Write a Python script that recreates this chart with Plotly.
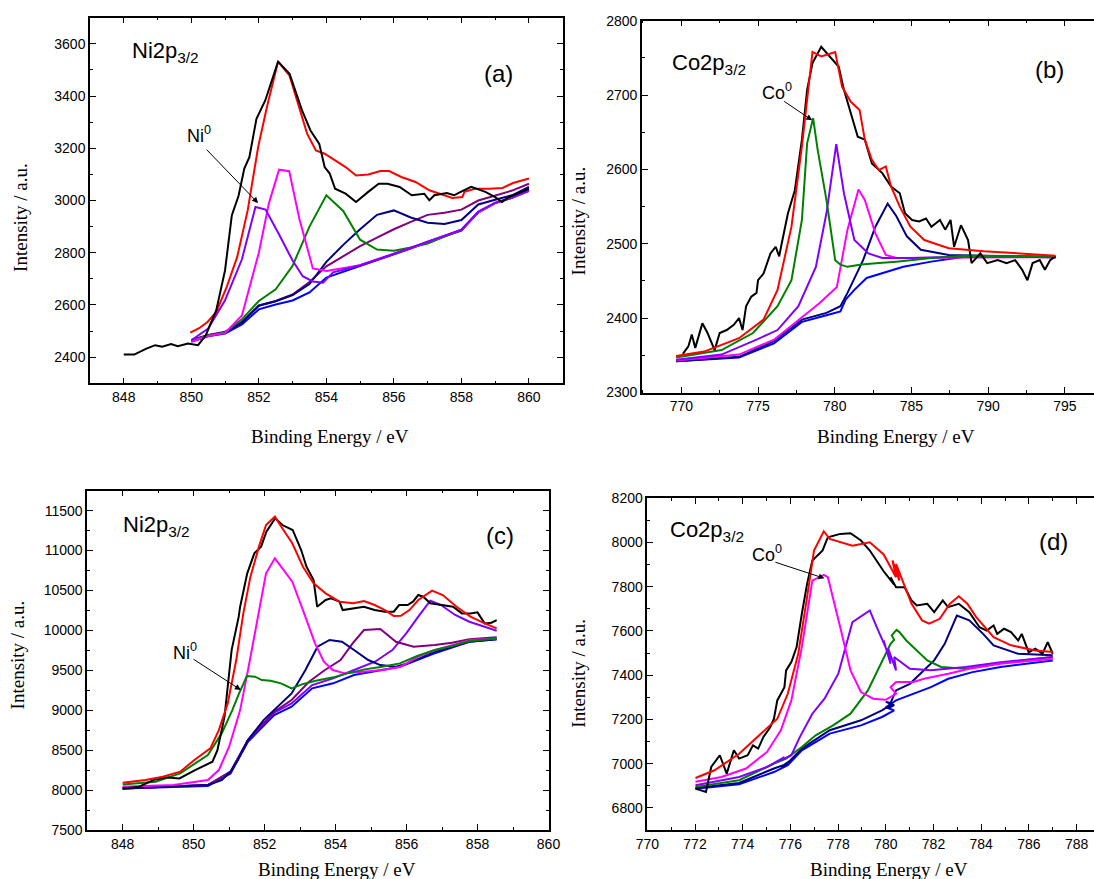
import plotly.graph_objects as go

# ---------------- Panel (a): Ni2p3/2 ----------------
A_BLACK_X = [848.0, 848.31, 848.67, 848.93, 849.14, 849.4, 849.6, 849.9, 850.2, 850.43, 850.74, 851.0, 851.2, 851.4, 851.57, 851.72, 851.93, 852.19, 852.57, 852.91, 853.28, 853.53, 853.79, 853.95, 854.1, 854.26, 854.57, 854.88, 855.24, 855.55, 855.81, 856.17, 856.53, 856.9, 857.05, 857.2, 857.57, 857.78, 857.98, 858.29, 858.71, 859.0, 859.2, 859.4, 860.0]
A_BLACK_Y = [2410, 2410, 2433, 2446, 2440, 2450, 2442, 2452, 2446, 2484, 2580, 2733, 2943, 3018, 3122, 3166, 3313, 3383, 3532, 3485, 3345, 3268, 3217, 3128, 3103, 3045, 3026, 2994, 3033, 3064, 3064, 3052, 3020, 3026, 3001, 3020, 3029, 3020, 3033, 3052, 3033, 3013, 2994, 3013, 3045]
A_RED_X = [849.97, 850.22, 850.48, 850.74, 851.05, 851.36, 851.67, 851.98, 852.24, 852.57, 852.91, 853.22, 853.43, 853.69, 853.95, 854.26, 854.57, 854.88, 855.24, 855.6, 855.86, 856.22, 856.64, 857.05, 857.47, 857.73, 858.03, 858.09, 858.4, 858.81, 859.22, 859.53, 860.0]
A_RED_Y = [2494, 2510, 2535, 2573, 2669, 2784, 2962, 3205, 3358, 3532, 3478, 3345, 3256, 3192, 3179, 3154, 3128, 3096, 3100, 3113, 3113, 3090, 3071, 3039, 3020, 3010, 3013, 3033, 3045, 3045, 3048, 3067, 3084]
A_GRID_X = [850.0, 850.5, 851.0, 851.5, 852.0, 852.5, 853.0, 853.5, 854.0, 854.5, 855.0, 855.5, 856.0, 856.5, 857.0, 857.5, 858.0, 858.5, 859.0, 859.5, 860.0]
A_BLUE_Y = [2459, 2480, 2491, 2525, 2583, 2602, 2617, 2648, 2705, 2727, 2748, 2771, 2794, 2816, 2841, 2864, 2885, 2955, 2990, 3010, 3036]
A_PURPLE_Y = [2466, 2485, 2497, 2535, 2598, 2615, 2640, 2688, 2748, 2785, 2825, 2858, 2890, 2918, 2945, 2953, 2965, 3000, 3020, 3038, 3064]
A_NAVY_Y = [2464, 2484, 2495, 2533, 2597, 2614, 2638, 2680, 2765, 2830, 2890, 2945, 2962, 2935, 2915, 2910, 2925, 2985, 3003, 3020, 3052]
A_GREEN_Y = [2463, 2483, 2495, 2545, 2615, 2660, 2750, 2900, 3020, 2960, 2850, 2812, 2808, 2820, 2835, 2860, 2888, 2955, 2990, 3010, 3040]
A_MAGENTA_X = [850.0, 850.5, 851.0, 851.5, 852.0, 852.3, 852.6, 852.9, 853.2, 853.6, 854.0, 854.5, 855.0, 855.5, 856.0, 856.5, 857.0, 857.5, 858.0, 858.5, 859.0, 859.5, 860.0]
A_MAGENTA_Y = [2460, 2481, 2493, 2560, 2800, 2990, 3118, 3112, 2930, 2740, 2730, 2742, 2752, 2775, 2796, 2818, 2842, 2865, 2887, 2955, 2990, 3012, 3038]
A_VIOLET_X = [850.0, 850.5, 851.0, 851.5, 851.9, 852.2, 852.6, 853.0, 853.3, 853.6, 853.9, 854.2, 854.5, 855.0, 855.5, 856.0, 856.5, 857.0, 857.5, 858.0, 858.5, 859.0, 859.5, 860.0]
A_VIOLET_Y = [2465, 2510, 2618, 2775, 2975, 2965, 2870, 2770, 2710, 2690, 2685, 2725, 2735, 2752, 2773, 2796, 2818, 2843, 2866, 2888, 2958, 2992, 3012, 3040]

# ---------------- Panel (b): Co2p3/2 ----------------
B_BLACK_X = [770.1, 770.46, 770.68, 770.91, 771.37, 771.71, 772.17, 772.5, 772.96, 773.42, 773.76, 773.99, 774.22, 774.56, 774.9, 775.0, 775.36, 775.81, 776.15, 776.38, 776.5, 776.95, 777.4, 777.86, 778.2, 778.55, 779.12, 779.69, 780.26, 780.6, 781.05, 781.5, 781.96, 782.42, 783.1, 783.67, 784.24, 784.58, 785.04, 785.5, 785.95, 786.3, 786.86, 787.2, 787.55, 787.78, 788.23, 788.69, 788.92, 789.49, 789.94, 790.62, 791.2, 791.76, 792.22, 792.56, 792.9, 793.36, 793.7, 794.04, 794.39]
B_BLACK_Y = [2352, 2362, 2378, 2360, 2393, 2380, 2357, 2380, 2384, 2391, 2400, 2384, 2416, 2429, 2434, 2451, 2460, 2487, 2496, 2483, 2496, 2541, 2572, 2640, 2707, 2743, 2765, 2752, 2738, 2707, 2675, 2644, 2640, 2608, 2595, 2577, 2568, 2541, 2532, 2530, 2534, 2523, 2532, 2519, 2532, 2496, 2525, 2505, 2474, 2487, 2474, 2478, 2474, 2478, 2465, 2451, 2474, 2478, 2465, 2478, 2483]
B_RED_X = [769.66, 771.48, 773.76, 775.36, 776.27, 777.18, 777.86, 778.27, 778.55, 779.12, 780.03, 780.48, 781.05, 781.62, 781.96, 782.42, 782.88, 783.33, 783.67, 784.24, 784.93, 785.84, 787.43, 789.71, 791.99, 794.39]
B_RED_Y = [2349, 2355, 2373, 2398, 2438, 2523, 2631, 2711, 2758, 2752, 2758, 2711, 2691, 2680, 2640, 2613, 2599, 2604, 2577, 2550, 2523, 2505, 2494, 2490, 2487, 2484]
B_GREEN_X = [769.66, 772.62, 774.67, 776.27, 777.18, 777.86, 778.2, 778.59, 778.89, 779.46, 780.03, 780.37, 780.83, 781.74, 782.88, 784.02, 786.29, 788.57, 794.39]
B_GREEN_Y = [2347, 2357, 2380, 2416, 2451, 2532, 2635, 2669, 2626, 2559, 2478, 2472, 2469, 2472, 2474, 2476, 2481, 2484, 2483]
B_VIOLET_X = [769.66, 772.62, 774.9, 776.27, 777.63, 778.77, 779.46, 780.1, 780.6, 781.28, 782.19, 783.1, 785.15, 788.57, 794.39]
B_VIOLET_Y = [2344, 2351, 2371, 2384, 2416, 2469, 2541, 2634, 2568, 2505, 2487, 2481, 2481, 2483, 2482]
B_MAGENTA_X = [769.66, 773.76, 776.04, 777.63, 779.0, 780.14, 780.83, 781.55, 781.96, 782.65, 783.33, 784.02, 786.29, 794.39]
B_MAGENTA_Y = [2343, 2351, 2371, 2398, 2420, 2442, 2519, 2573, 2559, 2514, 2485, 2481, 2481, 2482]
B_NAVY_X = [769.66, 773.76, 776.04, 777.86, 779.46, 780.37, 780.83, 781.85, 782.65, 783.45, 784.02, 784.7, 785.61, 787.43, 794.39]
B_NAVY_Y = [2342, 2348, 2369, 2398, 2407, 2416, 2434, 2478, 2523, 2554, 2537, 2510, 2492, 2485, 2482]
B_BLUE_X = [769.66, 773.76, 776.04, 777.86, 779.46, 780.37, 780.71, 781.28, 782.08, 783.1, 784.47, 786.29, 788.57, 794.39]
B_BLUE_Y = [2342, 2347, 2366, 2395, 2404, 2409, 2425, 2438, 2454, 2460, 2469, 2476, 2483, 2482]

# ---------------- Panel (c): Ni2p3/2 ----------------
C_BLACK_X = [848.0, 848.46, 848.86, 849.25, 849.6, 850.04, 850.53, 850.67, 850.87, 851.07, 851.27, 851.31, 851.51, 851.71, 851.9, 852.05, 852.3, 852.5, 852.79, 853.03, 853.18, 853.38, 853.48, 853.72, 853.87, 854.11, 854.2, 854.8, 855.1, 855.39, 855.64, 855.79, 856.03, 856.18, 856.33, 856.47, 856.67, 857.02, 857.31, 857.56, 857.8, 858.0, 858.2, 858.39, 858.54]
C_BLACK_Y = [8021, 8042, 8125, 8159, 8146, 8251, 8355, 8501, 8919, 9754, 10172, 10297, 10715, 10965, 11049, 11237, 11404, 11320, 11258, 11007, 10798, 10631, 10297, 10381, 10402, 10360, 10255, 10297, 10255, 10234, 10234, 10318, 10318, 10360, 10443, 10422, 10339, 10318, 10297, 10213, 10213, 10226, 10088, 10097, 10130]
C_RED_X = [848.0, 848.64, 849.13, 849.62, 850.02, 850.47, 850.71, 850.96, 851.2, 851.4, 851.6, 851.84, 852.04, 852.29, 852.53, 852.78, 853.08, 853.38, 853.72, 854.11, 854.5, 854.8, 855.1, 855.39, 855.64, 855.84, 856.08, 856.33, 856.72, 857.02, 857.41, 857.8, 858.2, 858.54]
C_RED_Y = [8092, 8125, 8167, 8230, 8376, 8522, 8752, 9086, 9629, 10214, 10673, 11049, 11320, 11425, 11258, 11091, 10798, 10590, 10464, 10360, 10339, 10368, 10318, 10255, 10180, 10184, 10255, 10381, 10498, 10443, 10297, 10172, 10088, 10026]
C_GREEN_X = [848.0, 848.93, 849.62, 850.4, 850.79, 851.09, 851.28, 851.5, 851.73, 851.92, 852.17, 852.46, 852.76, 853.05, 853.44, 853.94, 854.33, 854.82, 855.31, 855.81, 856.3, 856.79, 857.28, 857.77, 858.54]
C_GREEN_Y = [8071, 8104, 8209, 8439, 8710, 9002, 9211, 9428, 9420, 9378, 9370, 9337, 9274, 9324, 9370, 9412, 9462, 9512, 9545, 9587, 9679, 9754, 9804, 9867, 9900]
C_MAGENTA_X = [848.0, 849.43, 850.4, 850.71, 851.0, 851.31, 851.55, 851.84, 852.04, 852.29, 852.53, 852.78, 853.08, 853.42, 853.67, 853.92, 854.26, 854.85, 855.34, 855.83, 856.33, 856.82, 857.31, 857.8, 858.54]
C_MAGENTA_Y = [8042, 8063, 8125, 8251, 8543, 9002, 9545, 10255, 10715, 10903, 10757, 10610, 10255, 9838, 9608, 9504, 9462, 9483, 9504, 9545, 9671, 9754, 9817, 9879, 9900]
C_NAVY_X = [848.0, 849.43, 850.4, 850.79, 851.04, 851.24, 851.53, 851.97, 852.27, 852.76, 853.15, 853.49, 853.83, 854.18, 854.52, 854.92, 855.26, 855.7, 856.1, 856.79, 857.77, 858.54]
C_NAVY_Y = [8021, 8042, 8063, 8125, 8230, 8376, 8627, 8877, 9002, 9211, 9504, 9796, 9880, 9859, 9754, 9629, 9566, 9545, 9596, 9733, 9858, 9888]
C_PURPLE_X = [848.0, 850.4, 851.04, 851.53, 852.27, 852.76, 853.25, 853.7, 854.14, 854.48, 854.8, 855.26, 855.7, 856.2, 856.79, 857.28, 857.77, 858.54]
C_PURPLE_Y = [8021, 8063, 8230, 8627, 8982, 9128, 9357, 9504, 9629, 9838, 10005, 10017, 9858, 9796, 9817, 9846, 9888, 9913]
C_VIOLET_X = [848.0, 850.4, 851.04, 851.53, 852.27, 852.76, 853.34, 853.93, 854.52, 855.11, 855.6, 855.99, 856.33, 856.67, 856.97, 857.37, 857.77, 858.16, 858.54]
C_VIOLET_Y = [8021, 8063, 8230, 8627, 8969, 9086, 9316, 9399, 9504, 9608, 9754, 9963, 10172, 10372, 10318, 10193, 10109, 10047, 9996]
C_BLUE_X = [848.0, 850.4, 851.04, 851.53, 852.27, 852.76, 853.34, 853.93, 854.52, 855.31, 855.81, 856.79, 857.77, 858.54]
C_BLUE_Y = [8021, 8050, 8209, 8606, 8940, 9044, 9274, 9337, 9441, 9504, 9545, 9712, 9858, 9888]

# ---------------- Panel (d): Co2p3/2 ----------------
D_BLACK_X = [772.02, 772.46, 772.68, 773.04, 773.33, 773.63, 773.85, 774.21, 774.43, 774.65, 774.87, 775.16, 775.31, 775.45, 775.75, 775.82, 776.04, 776.26, 776.48, 776.7, 776.92, 777.35, 777.57, 778.09, 778.52, 778.96, 779.33, 779.77, 779.91, 780.35, 780.2, 780.43, 780.79, 781.08, 781.3, 781.74, 782.03, 782.39, 782.61, 783.06, 783.5, 783.93, 784.23, 784.52, 784.67, 784.96, 785.25, 785.55, 785.7, 785.99, 786.27, 786.57, 786.79, 787.0]
D_BLACK_Y = [6887, 6872, 6985, 7038, 6955, 7061, 7023, 7038, 7083, 7068, 7121, 7166, 7203, 7286, 7346, 7422, 7459, 7527, 7678, 7813, 7919, 7964, 8024, 8039, 8042, 8009, 7964, 7896, 7870, 7810, 7843, 7798, 7798, 7738, 7715, 7723, 7685, 7738, 7708, 7723, 7685, 7617, 7602, 7625, 7587, 7610, 7595, 7557, 7587, 7504, 7520, 7497, 7550, 7497]
D_RED_X = [772.02, 772.82, 773.85, 774.87, 775.45, 775.89, 776.33, 776.7, 776.99, 777.4, 777.65, 778.6, 779.33, 779.91, 780.43, 780.28, 780.57, 780.43, 780.79, 781.08, 781.52, 781.82, 782.26, 782.69, 783.06, 783.42, 783.79, 784.52, 785.25, 786.27, 787.0]
D_RED_Y = [6935, 6970, 7045, 7143, 7203, 7316, 7497, 7753, 7964, 8051, 8016, 7986, 8001, 7946, 7843, 7919, 7828, 7903, 7798, 7723, 7648, 7633, 7655, 7723, 7757, 7723, 7663, 7572, 7535, 7512, 7505]
D_MAGENTA_X = [772.02, 773.11, 774.14, 775.02, 775.6, 776.04, 776.48, 776.92, 777.4, 777.57, 778.09, 778.52, 778.96, 779.47, 779.99, 780.43, 780.2, 780.43, 781.16, 781.6, 782.62, 783.5, 784.81, 787.0]
D_MAGENTA_Y = [6918, 6940, 6978, 7053, 7151, 7286, 7527, 7828, 7854, 7843, 7617, 7422, 7324, 7294, 7289, 7316, 7346, 7369, 7369, 7384, 7407, 7429, 7452, 7474]
D_VIOLET_X = [772.02, 773.85, 775.02, 775.38, 775.75, 775.6, 776.04, 776.4, 776.92, 777.43, 778.01, 778.6, 779.33, 779.62, 779.99, 779.91, 780.2, 780.1, 780.43, 780.35, 781.01, 781.89, 783.35, 784.81, 787.0]
D_VIOLET_Y = [6902, 6940, 6985, 7008, 7030, 7015, 7038, 7121, 7226, 7294, 7407, 7640, 7693, 7617, 7527, 7557, 7452, 7520, 7422, 7482, 7429, 7422, 7437, 7459, 7482]
D_GREEN_X = [772.02, 773.85, 775.31, 775.82, 776.48, 777.06, 777.79, 778.52, 779.25, 779.84, 780.2, 780.35, 780.25, 780.45, 780.57, 780.86, 781.3, 781.74, 782.32, 783.35, 784.81, 787.0]
D_GREEN_Y = [6895, 6925, 7000, 7023, 7075, 7128, 7173, 7226, 7331, 7467, 7542, 7560, 7580, 7605, 7595, 7557, 7512, 7467, 7437, 7429, 7455, 7482]
D_NAVY_X = [772.02, 773.85, 775.31, 775.89, 775.6, 775.95, 776.48, 777.65, 778.96, 779.84, 780.28, 780.0, 780.35, 780.1, 780.43, 781.01, 781.6, 782.03, 782.47, 782.98, 783.5, 784.08, 784.52, 785.55, 787.0]
D_NAVY_Y = [6890, 6913, 6978, 7000, 6985, 7010, 7068, 7151, 7196, 7241, 7271, 7280, 7265, 7250, 7331, 7361, 7422, 7467, 7542, 7670, 7648, 7587, 7535, 7497, 7490]
D_BLUE_X = [772.02, 773.85, 775.31, 775.89, 776.48, 777.65, 778.96, 779.84, 780.35, 780.0, 780.43, 781.01, 781.89, 782.62, 783.64, 784.81, 787.0]
D_BLUE_Y = [6887, 6907, 6962, 6993, 7060, 7136, 7173, 7211, 7241, 7255, 7286, 7309, 7346, 7384, 7414, 7437, 7467]

# ---------------- axis / label text ----------------
X_TITLE = "Binding Energy / eV"
Y_TITLE = "Intensity / a.u."
PANEL_TAGS = ["(a)", "(b)", "(c)", "(d)"]
SPECIES = ["Ni2p<sub>3/2</sub>", "Co2p<sub>3/2</sub>", "Ni2p<sub>3/2</sub>", "Co2p<sub>3/2</sub>"]
METAL = ["Ni<sup>0</sup>", "Co<sup>0</sup>", "Ni<sup>0</sup>", "Co<sup>0</sup>"]

BLACK, RED, MAGENTA, VIOLET = "#000000", "#FF0000", "#FF00FF", "#8000FF"
GREEN, NAVY, PURPLE, BLUE = "#008000", "#000080", "#800080", "#0000FF"

W, H = 1094, 879

panels = [
    [  # (a)
        (A_GRID_X, A_BLUE_Y, BLUE), (A_GRID_X, A_PURPLE_Y, PURPLE), (A_GRID_X, A_NAVY_Y, NAVY),
        (A_GRID_X, A_GREEN_Y, GREEN), (A_MAGENTA_X, A_MAGENTA_Y, MAGENTA), (A_VIOLET_X, A_VIOLET_Y, VIOLET),
        (A_RED_X, A_RED_Y, RED), (A_BLACK_X, A_BLACK_Y, BLACK),
    ],
    [  # (b)
        (B_BLUE_X, B_BLUE_Y, BLUE), (B_NAVY_X, B_NAVY_Y, NAVY), (B_MAGENTA_X, B_MAGENTA_Y, MAGENTA),
        (B_VIOLET_X, B_VIOLET_Y, VIOLET), (B_GREEN_X, B_GREEN_Y, GREEN),
        (B_BLACK_X, B_BLACK_Y, BLACK), (B_RED_X, B_RED_Y, RED),
    ],
    [  # (c)
        (C_BLUE_X, C_BLUE_Y, BLUE), (C_VIOLET_X, C_VIOLET_Y, VIOLET), (C_PURPLE_X, C_PURPLE_Y, PURPLE),
        (C_NAVY_X, C_NAVY_Y, NAVY), (C_MAGENTA_X, C_MAGENTA_Y, MAGENTA), (C_GREEN_X, C_GREEN_Y, GREEN),
        (C_BLACK_X, C_BLACK_Y, BLACK), (C_RED_X, C_RED_Y, RED),
    ],
    [  # (d)
        (D_BLUE_X, D_BLUE_Y, BLUE), (D_NAVY_X, D_NAVY_Y, NAVY), (D_GREEN_X, D_GREEN_Y, GREEN),
        (D_VIOLET_X, D_VIOLET_Y, VIOLET), (D_MAGENTA_X, D_MAGENTA_Y, MAGENTA),
        (D_BLACK_X, D_BLACK_Y, BLACK), (D_RED_X, D_RED_Y, RED),
    ],
]

# frame geometry in pixels: left, right, top, bottom
frames = [(90, 562.7, 17.7, 383.3), (641.9, 1094, 20.7, 392.5), (87.2, 548.5, 490.7, 830), (647.3, 1094, 498.3, 830)]
xranges = [[847, 861], [767.43, 796.9], [847, 860], [770, 788.73]]
yranges = [[2300, 3700], [2300, 2800], [7500, 11750], [6700, 8200]]
xticks = [(2, 1), (5, 2.5), (2, 1), (2, 1)]
yticks = [(200, 100), (100, 50), (500, 250), (200, 100)]
right_visible = [True, False, True, False]

fig = go.Figure()
for i, curves in enumerate(panels):
    xa = "x" if i == 0 else f"x{i+1}"
    ya = "y" if i == 0 else f"y{i+1}"
    for (xs, ys, col) in curves:
        assert len(xs) == len(ys), (i, col, len(xs), len(ys))
        fig.add_trace(go.Scatter(x=xs, y=ys, mode="lines", xaxis=xa, yaxis=ya,
                                 line=dict(color=col, width=2), showlegend=False, hoverinfo="skip"))

tickfont = dict(family="Liberation Sans, Arial", size=14, color="black")
layout = dict(template="none", width=W, height=H,
              margin=dict(l=0, r=0, t=0, b=0, pad=0, autoexpand=False),
              paper_bgcolor="white", plot_bgcolor="white", showlegend=False)
for i in range(4):
    l, r, t, b = frames[i]
    xk = "xaxis" if i == 0 else f"xaxis{i+1}"
    yk = "yaxis" if i == 0 else f"yaxis{i+1}"
    xa = "x" if i == 0 else f"x{i+1}"
    ya = "y" if i == 0 else f"y{i+1}"
    layout[xk] = dict(domain=[l / W, min(r / W, 1.0)], anchor=ya, range=xranges[i], automargin=False,
                      dtick=xticks[i][0], tick0=0, ticks="inside", ticklen=6, tickwidth=1.3, tickcolor="black",
                      minor=dict(dtick=xticks[i][1], ticks="inside", ticklen=3, tickwidth=1.2, tickcolor="black"),
                      showline=True, linecolor="black", linewidth=1.5, mirror="ticks",
                      showgrid=False, zeroline=False, tickfont=tickfont, tickformat="d")
    layout[yk] = dict(domain=[1 - b / H, 1 - t / H], anchor=xa, range=yranges[i], automargin=False,
                      dtick=yticks[i][0], tick0=0, ticks="inside", ticklen=6, tickwidth=1.3, tickcolor="black",
                      minor=dict(dtick=yticks[i][1], ticks="inside", ticklen=3, tickwidth=1.2, tickcolor="black"),
                      showline=True, linecolor="black", linewidth=1.5,
                      mirror="ticks" if right_visible[i] else False,
                      showgrid=False, zeroline=False, tickfont=tickfont, tickformat="d")
fig.update_layout(**layout)

def px(xp):
    return xp / W

def py(yp):
    return 1 - yp / H

ann = []
serif = "Liberation Serif, Times New Roman"
sans = "Liberation Sans, Arial"
# axis titles
xt_pos = [(329.7, 437), (896, 437), (336.7, 869), (889, 869)]
yt_pos = [(19.9, 217), (578.4, 221), (17.4, 655), (577.7, 673)]
for i in range(4):
    ann.append(dict(text=X_TITLE, x=px(xt_pos[i][0]), y=py(xt_pos[i][1]), xref="paper", yref="paper",
                    xanchor="center", yanchor="middle", showarrow=False,
                    font=dict(family=serif, size=19, color="black")))
    ann.append(dict(text=Y_TITLE, x=px(yt_pos[i][0]), y=py(yt_pos[i][1]), xref="paper", yref="paper",
                    xanchor="center", yanchor="middle", showarrow=False, textangle=-90,
                    font=dict(family=serif, size=19, color="black")))
# species labels
sp_pos = [(129.5, 52), (669.5, 64), (121, 526), (668.5, 531)]
tag_pos = [(498, 73), (1049, 69), (500, 535), (1053, 541)]
for i in range(4):
    ann.append(dict(text=SPECIES[i], x=px(sp_pos[i][0]), y=py(sp_pos[i][1]), xref="paper", yref="paper",
                    xanchor="left", yanchor="middle", showarrow=False,
                    font=dict(family=sans, size=22, color="black")))
    ann.append(dict(text=PANEL_TAGS[i], x=px(tag_pos[i][0]), y=py(tag_pos[i][1]), xref="paper", yref="paper",
                    xanchor="center", yanchor="middle", showarrow=False,
                    font=dict(family=sans, size=24, color="black")))
# metal labels with arrows
metal_pos = [(185, 134), (759.8, 91), (171, 651), (750, 553)]
arrow_head = [(851.98, 2990), (778.53, 2666), (851.33, 9254), (777.43, 7838)]
arrow_off = [(-53, -55), (-29.5, -20), (-48.8, -31.7), (-50.6, -16.6)]
for i in range(4):
    xr = "x" if i == 0 else f"x{i+1}"
    yr = "y" if i == 0 else f"y{i+1}"
    ann.append(dict(text=METAL[i], x=px(metal_pos[i][0]), y=py(metal_pos[i][1]), xref="paper", yref="paper",
                    xanchor="left", yanchor="middle", showarrow=False,
                    font=dict(family=sans, size=18, color="black")))
    ann.append(dict(text="", x=arrow_head[i][0], y=arrow_head[i][1], xref=xr, yref=yr,
                    ax=arrow_off[i][0], ay=arrow_off[i][1], showarrow=True,
                    arrowhead=2, arrowsize=1.2, arrowwidth=1, arrowcolor="black"))
fig.update_layout(annotations=ann)

fig.write_html("out.html")
